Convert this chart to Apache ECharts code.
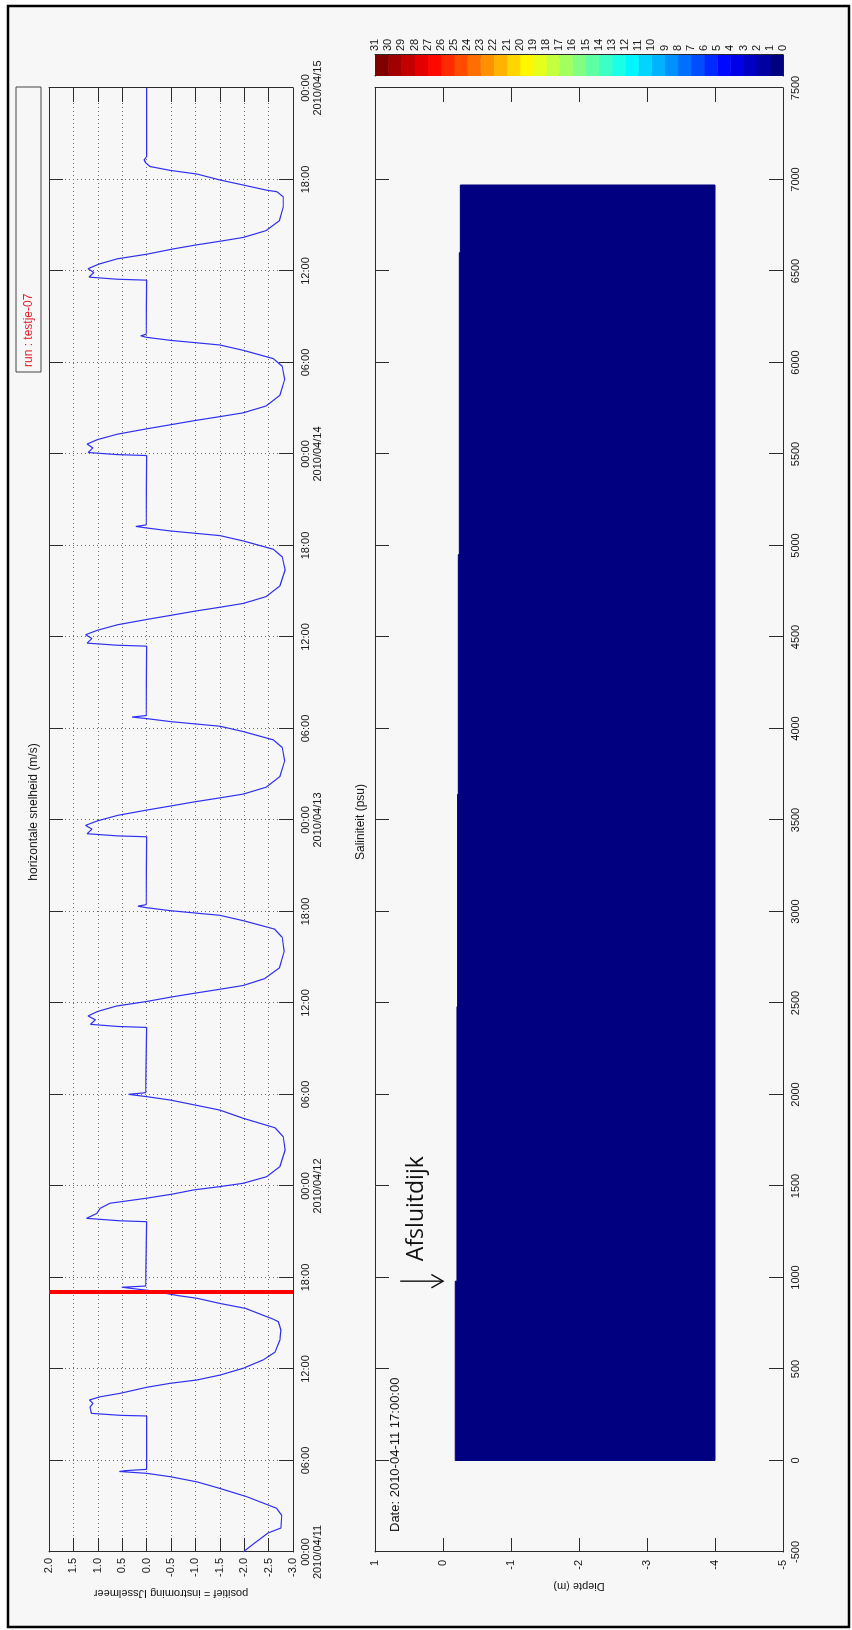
<!DOCTYPE html>
<html>
<head>
<meta charset="utf-8">
<script src="https://cdn.jsdelivr.net/npm/echarts@6.0.0/dist/echarts.min.js"></script>
<style>
  html, body { margin: 0; padding: 0; background: #ffffff; width: 852px; height: 1630px; overflow: hidden; }
  /* landscape figure, turned a quarter turn counter-clockwise on the page */
  #fig { position: absolute; left: 0; top: 0; width: 1630px; height: 852px;
         transform-origin: 0 0; transform: translate(0px, 1630px) rotate(-90deg); }
</style>
</head>
<body>
<div id="fig"></div>
<script>
// ---- time axis (hours since 2010-04-11 00:00) ----
const dayLabels  = ['2010/04/11', '2010/04/12', '2010/04/13', '2010/04/14', '2010/04/15'];
const hourLabels = ['00:00', '06:00', '12:00', '18:00'];
const currentHour = 17;            // 2010-04-11 17:00:00
const currentDateText = 'Date: 2010-04-11 17:00:00';

// ---- horizontal velocity at the sluices (m/s), positive = flow into IJsselmeer ----
const velHours = [
  0.00, 0.55, 1.25, 1.57, 2.40, 2.87, 3.63, 4.17, 4.60, 4.94, 5.16, 5.28, 5.33, 5.42,
  8.92, 8.96, 9.09, 9.50, 9.75, 9.97, 10.18, 10.40, 10.80, 11.06, 11.28, 11.60, 12.05, 12.60,
  13.10, 13.90, 14.56, 15.10, 15.26, 15.98, 16.30, 16.64, 16.81, 17.13, 17.36, 17.44,
  21.66, 21.72, 21.88, 22.20, 22.54, 22.87, 23.20, 23.48, 23.74, 23.96, 24.18, 24.61,
  25.27, 26.36, 27.23, 27.82, 28.44, 28.98, 29.64, 29.86, 30.01, 30.12,
  34.40, 34.46, 34.60, 34.90, 35.15, 35.45, 35.80, 36.10, 36.40, 36.65, 36.90, 37.15,
  37.60, 38.30, 39.40, 40.30, 40.85, 41.40, 41.75, 42.05, 42.25, 42.35, 42.45,
  46.90, 46.96, 47.10, 47.40, 47.65, 47.95, 48.30, 48.65, 48.95, 49.20, 49.45, 49.70,
  50.15, 50.85, 51.90, 52.75, 53.25, 53.80, 54.15, 54.45, 54.65, 54.75, 54.85,
  59.40, 59.46, 59.60, 59.90, 60.15, 60.45, 60.80, 61.15, 61.45, 61.70, 61.95, 62.20,
  62.65, 63.35, 64.40, 65.25, 65.75, 66.30, 66.65, 66.95, 67.15, 67.25, 67.35,
  71.90, 71.96, 72.10, 72.40, 72.65, 72.95, 73.30, 73.65, 73.95, 74.20, 74.45, 74.70,
  75.15, 75.85, 76.90, 77.75, 78.25, 78.80, 79.15, 79.45, 79.65, 79.75, 79.85,
  83.40, 83.46, 83.60, 83.90, 84.15, 84.45, 84.80, 85.10, 85.45, 85.70, 85.95, 86.20,
  86.65, 87.30, 88.20, 88.87, 89.20, 89.30, 89.64, 89.97, 90.36, 90.60, 90.85, 91.10,
  91.30, 91.50, 96.00
];
const velValues = [
  -1.98, -2.20, -2.49, -2.75, -2.77, -2.66, -2.05, -1.50, -1.03, -0.48, 0.00, 0.56, 0.45, 0.00,
  0.00, 0.53, 1.13, 1.16, 1.10, 1.17, 0.95, 0.55, 0.00, -0.48, -1.03, -1.50, -1.98, -2.39,
  -2.63, -2.73, -2.75, -2.70, -2.60, -2.02, -1.50, -1.03, -0.65, -0.10, 0.51, 0.02,
  0.00, 0.55, 1.23, 1.02, 0.95, 0.75, 0.00, -0.55, -0.96, -1.50, -1.98, -2.46,
  -2.73, -2.84, -2.80, -2.63, -1.98, -1.50, -0.48, 0.00, 0.37, 0.02,
  0.00, 0.58, 1.15, 1.05, 1.20, 1.00, 0.62, 0.00, -0.52, -1.00, -1.50, -1.98,
  -2.42, -2.72, -2.82, -2.78, -2.62, -1.98, -1.50, -0.50, 0.00, 0.18, 0.01,
  0.00, 0.60, 1.22, 1.12, 1.25, 1.00, 0.60, 0.00, -0.55, -1.00, -1.50, -1.98,
  -2.45, -2.73, -2.83, -2.78, -2.60, -1.98, -1.50, -0.50, 0.00, 0.30, 0.01,
  0.00, 0.60, 1.22, 1.12, 1.25, 1.00, 0.60, 0.00, -0.55, -1.00, -1.50, -1.98,
  -2.45, -2.73, -2.84, -2.78, -2.60, -1.98, -1.50, -0.50, 0.00, 0.22, 0.01,
  0.00, 0.60, 1.20, 1.10, 1.22, 1.00, 0.60, 0.00, -0.55, -1.00, -1.50, -1.98,
  -2.45, -2.73, -2.83, -2.78, -2.60, -1.98, -1.50, -0.50, 0.00, 0.12, 0.01,
  0.00, 0.60, 1.18, 1.08, 1.20, 0.98, 0.60, 0.00, -0.55, -1.00, -1.50, -1.98,
  -2.45, -2.72, -2.80, -2.80, -2.67, -2.46, -1.98, -1.50, -1.03, -0.48, -0.07, 0.02,
  0.05, 0.00, 0.00
];

// ---- salinity section: water column along the channel (distance in m, depth in m) ----
const salDistStart = [0, 980, 2480, 3640, 4950, 6600];
const salDistEnd   = [980, 2480, 3640, 4950, 6600, 6970];
const salSurface   = [-0.18, -0.205, -0.215, -0.225, -0.24, -0.255];
const salBottom    = -4.0;
const salValue     = [0, 0, 0, 0, 0, 0];   // psu in every cell

// ---- colour scale (psu) ----
const colorLevels = [0, 1, 2, 3, 4, 5, 6, 7, 8, 9, 10, 11, 12, 13, 14, 15,
                     16, 17, 18, 19, 20, 21, 22, 23, 24, 25, 26, 27, 28, 29, 30, 31];

// ---- dam marker ----
const damName = 'Afsluitdijk';
const damDist = 980;
const damArrowFrom = 0.63;
const damArrowTo = 0.0;

// jet colormap
function jet(t) {
  const c = v => Math.round(255 * Math.max(0, Math.min(1, v)));
  return 'rgb(' + c(1.5 - Math.abs(4 * t - 3)) + ',' + c(1.5 - Math.abs(4 * t - 2)) + ',' + c(1.5 - Math.abs(4 * t - 1)) + ')';
}
const nBands = colorLevels.length - 1;
const bandColors = colorLevels.slice(0, -1).map((v, i) => jet(i / (nBands - 1)));

const FONT = "'Liberation Sans', Arial, Helvetica, sans-serif";
const AX = '#2b2b2b';
const TXT = '#141414';

function timeLabel(v) {
  const h = Math.round(v) % 24;
  const d = Math.round((Math.round(v) - h) / 24);
  const hh = hourLabels[h / 6];
  return h === 0 ? hh + '\n' + dayLabels[d] : hh;
}

function boxAxis(opts) {
  return Object.assign({
    type: 'value',
    axisLine: { show: true, onZero: false, lineStyle: { color: AX, width: 1 } },
    axisTick: { show: true, inside: true, length: 14, lineStyle: { color: AX, width: 1 } },
    axisLabel: { show: false },
    splitLine: { show: false }
  }, opts);
}
const labelStyle = { show: true, color: TXT, fontSize: 11, fontFamily: FONT };
const gridDots = { show: true, lineStyle: { color: '#6a6a6a', width: 1, type: [1, 3] } };

const chart = echarts.init(document.getElementById('fig'), null, { renderer: 'canvas', width: 1630, height: 852 });

const option = {
  animation: false,
  backgroundColor: '#ffffff',
  grid: [
    { left: 78, top: 49, width: 1464, height: 244 },
    { left: 78, top: 375, width: 1464, height: 408 },
    { left: 1554, top: 375, width: 21, height: 408 }
  ],
  xAxis: [
    boxAxis({ gridIndex: 0, position: 'bottom', min: 0, max: 96, interval: 6,
      axisLabel: Object.assign({}, labelStyle, { formatter: timeLabel, margin: 7, lineHeight: 12 }),
      splitLine: gridDots }),
    boxAxis({ gridIndex: 0, position: 'top', min: 0, max: 96, interval: 6 }),
    boxAxis({ gridIndex: 1, position: 'bottom', min: -500, max: 7500, interval: 500,
      axisLabel: Object.assign({}, labelStyle, { formatter: v => String(v), margin: 7 }) }),
    boxAxis({ gridIndex: 1, position: 'top', min: -500, max: 7500, interval: 500 }),
    boxAxis({ gridIndex: 2, position: 'bottom', min: 0, max: 1, axisTick: { show: false } }),
    boxAxis({ gridIndex: 2, position: 'top', min: 0, max: 1, axisTick: { show: false } })
  ],
  yAxis: [
    boxAxis({ gridIndex: 0, position: 'left', min: -3, max: 2, interval: 0.5,
      axisLabel: Object.assign({}, labelStyle, { formatter: v => v.toFixed(1), margin: 6 }),
      splitLine: gridDots,
      name: 'positief = instroming IJsselmeer', nameLocation: 'middle', nameRotate: 90, nameGap: 31,
      nameTextStyle: { color: TXT, fontSize: 11, fontFamily: FONT } }),
    boxAxis({ gridIndex: 0, position: 'right', min: -3, max: 2, interval: 0.5 }),
    boxAxis({ gridIndex: 1, position: 'left', min: -5, max: 1, interval: 1,
      axisLabel: Object.assign({}, labelStyle, { formatter: v => String(v), margin: 8 }),
      name: 'Diepte (m)', nameLocation: 'middle', nameRotate: 90, nameGap: 23,
      nameTextStyle: { color: TXT, fontSize: 11, fontFamily: FONT } }),
    boxAxis({ gridIndex: 1, position: 'right', min: -5, max: 1, interval: 1 }),
    boxAxis({ gridIndex: 2, position: 'left', min: 0, max: 31, interval: 1,
      axisTick: { show: true, inside: true, length: 3, lineStyle: { color: AX } } }),
    boxAxis({ gridIndex: 2, position: 'right', min: 0, max: 31, interval: 1,
      axisTick: { show: true, inside: true, length: 3, lineStyle: { color: AX } },
      axisLabel: Object.assign({}, labelStyle, { formatter: v => String(v), margin: 4 }) })
  ],
  graphic: [
    { type: 'rect', z: -100, silent: true, shape: { x: 3, y: 8, width: 1621, height: 841 },
      style: { fill: '#f7f7f7', stroke: '#000000', lineWidth: 2.5 } },
    { type: 'text', x: 818, y: 34, silent: true,
      style: { text: 'horizontale snelheid (m/s)', fill: TXT, font: '12px ' + FONT, textAlign: 'center', textVerticalAlign: 'middle' } },
    { type: 'text', x: 808, y: 361, silent: true,
      style: { text: 'Saliniteit (psu)', fill: TXT, font: '12px ' + FONT, textAlign: 'center', textVerticalAlign: 'middle' } },
    { type: 'text', x: 98, y: 395, silent: true,
      style: { text: currentDateText, fill: TXT, font: '13px ' + FONT, textAlign: 'left', textVerticalAlign: 'middle' } },
    { type: 'rect', silent: true, shape: { x: 1258, y: 16, width: 285, height: 25 },
      style: { fill: 'none', stroke: '#444', lineWidth: 1 } },
    { type: 'text', x: 1263, y: 29, silent: true,
      style: { text: 'run : testje-07', fill: '#e61e28', font: '12px ' + FONT, textAlign: 'left', textVerticalAlign: 'middle' } }
  ],
  series: [
    {
      type: 'line', xAxisIndex: 0, yAxisIndex: 0,
      data: velHours.map((h, i) => [h, velValues[i]]),
      showSymbol: false, symbol: 'none', clip: true,
      lineStyle: { color: '#3030f0', width: 1.2 },
      markLine: {
        silent: true, symbol: 'none', label: { show: false },
        lineStyle: { color: '#ff0000', width: 4, type: 'solid' },
        data: [{ xAxis: currentHour }]
      }
    },
    {
      type: 'custom', xAxisIndex: 2, yAxisIndex: 2,
      data: salDistStart.map((d, i) => [d, salDistEnd[i], salSurface[i], salBottom, salValue[i]]),
      renderItem: function (params, api) {
        const p0 = api.coord([api.value(0), api.value(2)]);
        const p1 = api.coord([api.value(1), api.value(3)]);
        const col = bandColors[Math.min(nBands - 1, Math.floor(api.value(4)))];
        return { type: 'rect',
          shape: { x: p0[0], y: p0[1], width: p1[0] - p0[0], height: p1[1] - p0[1] },
          style: { fill: col, stroke: col, lineWidth: 1 } };
      }
    },
    {
      type: 'custom', xAxisIndex: 2, yAxisIndex: 2, silent: true,
      data: [[damDist, damArrowFrom, damArrowTo]],
      renderItem: function (params, api) {
        const a = api.coord([api.value(0), api.value(1)]);
        const b = api.coord([api.value(0), api.value(2)]);
        return { type: 'group', children: [
          { type: 'line', shape: { x1: a[0], y1: a[1], x2: b[0], y2: b[1] }, style: { stroke: '#111', lineWidth: 1.4 } },
          { type: 'polyline', shape: { points: [[b[0] - 6.7, b[1] - 11.7], [b[0], b[1]], [b[0] + 6.7, b[1] - 11.7]] },
            style: { stroke: '#111', lineWidth: 1.4, fill: 'none' } },
          { type: 'text', x: b[0] + 20, y: b[1] - 15,
            style: { text: damName, fill: '#111', font: "23px 'Open Sans', 'Noto Sans', sans-serif", textAlign: 'left', textVerticalAlign: 'bottom' } }
        ] };
      }
    },
    {
      type: 'custom', xAxisIndex: 4, yAxisIndex: 4, silent: true,
      data: colorLevels.slice(0, -1).map((v, i) => [v, colorLevels[i + 1]]),
      renderItem: function (params, api) {
        const p0 = api.coord([0, api.value(1)]);
        const p1 = api.coord([1, api.value(0)]);
        return { type: 'rect', shape: { x: p0[0], y: p0[1], width: p1[0] - p0[0], height: p1[1] - p0[1] + 0.5 },
          style: { fill: bandColors[params.dataIndex] } };
      }
    }
  ]
};
chart.setOption(option);
</script>
</body>
</html>
